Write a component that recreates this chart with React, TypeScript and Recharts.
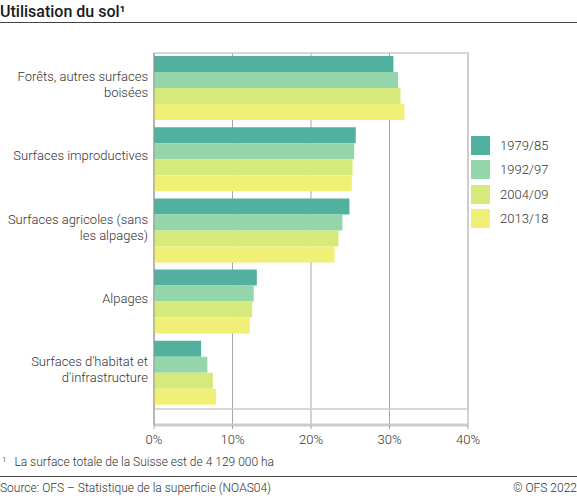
import { BarChart, Bar, XAxis, YAxis, CartesianGrid, ReferenceArea } from 'recharts';

const categories = [
  'Forêts, autres surfaces\nboisées',
  'Surfaces improductives',
  'Surfaces agricoles (sans\nles alpages)',
  'Alpages',
  "Surfaces d'habitat et\nd'infrastructure",
];

const periods = ['1979/85', '1992/97', '2004/09', '2013/18'];
const colors = ['#52b09e', '#94d5a9', '#d5ea7a', '#f1f076'];

const v1979 = [30.5, 25.7, 24.9, 13.1, 6.0];
const v1992 = [31.1, 25.5, 24.0, 12.7, 6.8];
const v2004 = [31.4, 25.3, 23.5, 12.5, 7.5];
const v2013 = [31.9, 25.2, 23.0, 12.2, 7.9];

const xTicks = [0, 10, 20, 30, 40];

const data = categories.map((name, i) => ({
  name,
  [periods[0]]: v1979[i],
  [periods[1]]: v1992[i],
  [periods[2]]: v2004[i],
  [periods[3]]: v2013[i],
}));

const font = 'Roboto, sans-serif';

function CategoryTick({ x, y, payload }: any) {
  const lines = String(payload.value).split('\n');
  const lh = 16;
  const start = y - 4 - ((lines.length - 1) * lh) / 2;
  return (
    <text x={x} y={start} textAnchor="end" fontSize={13} fill="#333" fontFamily={font} fontWeight={300}>
      {lines.map((l, i) => (
        <tspan key={i} x={x} y={start + i * lh} dy="0.35em">{l}</tspan>
      ))}
    </text>
  );
}

function LegendBox() {
  return (
    <div style={{ fontFamily: font, fontSize: 13, color: '#333', fontWeight: 300 }}>
      {periods.map((p, i) => (
        <div key={p} style={{ display: 'flex', alignItems: 'center', height: 24.5 }}>
          <span style={{ width: 19, height: 19, background: colors[i], display: 'inline-block', marginRight: 10 }} />
          <span>{p}</span>
        </div>
      ))}
    </div>
  );
}

export default function App() {
  return (
    <div style={{ position: 'absolute', left: 0, top: 0, width: 577, height: 498, background: '#fff', fontFamily: font }}>
      <div style={{ position: 'absolute', left: 0, top: 2, fontSize: 16, fontWeight: 500, color: '#1a1a1a' }}>
        Utilisation du sol¹
      </div>
      <div style={{ position: 'absolute', left: 0, top: 22, width: 577, height: 1, background: '#444' }} />

      <div style={{ position: 'absolute', left: 0, top: 0 }}>
        <BarChart
          width={577}
          height={460}
          data={data}
          layout="vertical"
          margin={{ top: 53, right: 109, bottom: 15, left: 4 }}
          barGap={0}
          barCategoryGap={3}
        >
          <ReferenceArea x1={0} x2={40} fill="none" stroke="#cccccc" strokeWidth={1.5} ifOverflow="visible" />
          <CartesianGrid horizontal={false} vertical stroke="#a6a6a6" strokeWidth={1} />
          <XAxis
            type="number"
            domain={[0, 40]}
            ticks={xTicks}
            tickFormatter={(v: number) => `${v}%`}
            tick={{ fill: '#333', fontSize: 13, fontFamily: font, fontWeight: 300 }}
            axisLine={{ stroke: '#cccccc', strokeWidth: 3 }}
            tickLine={{ stroke: '#a6a6a6' }}
            tickSize={4}
            tickMargin={6}
            height={20}
          />
          <YAxis
            type="category"
            dataKey="name"
            width={150}
            tick={<CategoryTick />}
            axisLine={{ stroke: '#999' }}
            tickLine={false}
            tickMargin={0}
            padding={{ top: 0, bottom: 16 }}
            interval={0}
          />
          {periods.map((p, i) => (
            <Bar key={p} dataKey={p} fill={colors[i]} isAnimationActive={false} />
          ))}
        </BarChart>
      </div>

      <div style={{ position: 'absolute', left: 471, top: 133 }}>
        <LegendBox />
      </div>

      <div style={{ position: 'absolute', left: 2, top: 455, fontSize: 12, color: '#333', fontWeight: 300 }}>
        <span style={{ fontSize: 8, verticalAlign: 'top', marginRight: 8 }}>1</span>
        La surface totale de la Suisse est de 4 129 000 ha
      </div>
      <div style={{ position: 'absolute', left: 0, top: 476, width: 577, height: 1, background: '#444' }} />
      <div style={{ position: 'absolute', left: 0, top: 481, fontSize: 12, color: '#333', fontWeight: 300 }}>
        Source: OFS – Statistique de la superficie (NOAS04)
      </div>
      <div style={{ position: 'absolute', right: 0, top: 481, fontSize: 12, color: '#333', fontWeight: 300 }}>
        © OFS 2022
      </div>
    </div>
  );
}
